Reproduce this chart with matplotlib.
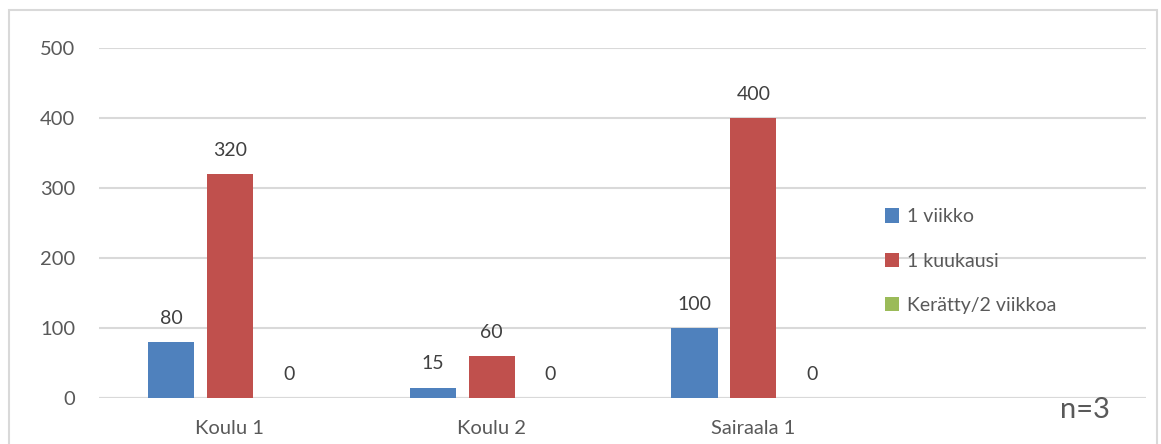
import numpy as np
import matplotlib.pyplot as plt
from matplotlib.patches import Rectangle

# data
categories = ["Koulu 1", "Koulu 2", "Sairaala 1", ""]
series_names = ["1 viikko", "1 kuukausi", "Kerätty/2 viikkoa"]
viikko = [80, 15, 100]
kuukausi = [320, 60, 400]
keratty = [0, 0, 0]
y_ticks = [0, 100, 200, 300, 400, 500]

colors = ["#4F81BD", "#C0504D", "#9BBB59"]
txt = "#595959"
grid = "#D9D9D9"

plt.rcParams["font.family"] = ["Lato", "DejaVu Sans"]

fig = plt.figure(figsize=(11.61, 4.44), dpi=100)
ax = fig.add_axes([99 / 1161, 46 / 444, 1047 / 1161, 350 / 444])

# border round the chart
fig.patches.append(Rectangle((9 / 1161, -0.1), 1148 / 1161, 1.1 - 10 / 444,
                             transform=fig.transFigure, fill=False,
                             edgecolor=grid, linewidth=1.5))

x = np.arange(len(viikko))
w = 0.176
off = 0.225
for i, (vals, name) in enumerate(zip([viikko, kuukausi, keratty], series_names)):
    bars = ax.bar(x + (i - 1) * off, vals, w, color=colors[i], label=name, zorder=3)
    for b, v in zip(bars, vals):
        ax.annotate(str(v), (b.get_x() + b.get_width() / 2, v),
                    xytext=(0, 11), textcoords="offset points",
                    ha="center", va="bottom", fontsize=14, color="#404040")

ax.set_xlim(-0.5, 3.5)
ax.set_ylim(0, 500)
ax.set_yticks(y_ticks)
ax.set_xticks(range(len(categories)))
ax.set_xticklabels(categories)
ax.tick_params(length=0, labelsize=14.5, colors=txt)
ax.tick_params(axis="x", pad=16)
ax.tick_params(axis="y", pad=17)
ax.yaxis.grid(True, color=grid, linewidth=1.5, zorder=0)
for s in ax.spines.values():
    s.set_visible(False)
ax.axhline(0, color=grid, linewidth=1.5, zorder=2)

leg = ax.legend(loc="center left", bbox_to_anchor=(768 / 1047, 137 / 350),
                frameon=False, fontsize=14, handlelength=0.75, handleheight=0.75,
                handletextpad=0.4, labelspacing=1.4, labelcolor=txt)

fig.text(1060 / 1161, 1 - 410 / 444, "n=3", fontsize=21, color=txt,
         ha="left", va="center")

fig.savefig("out.png", dpi=100)
